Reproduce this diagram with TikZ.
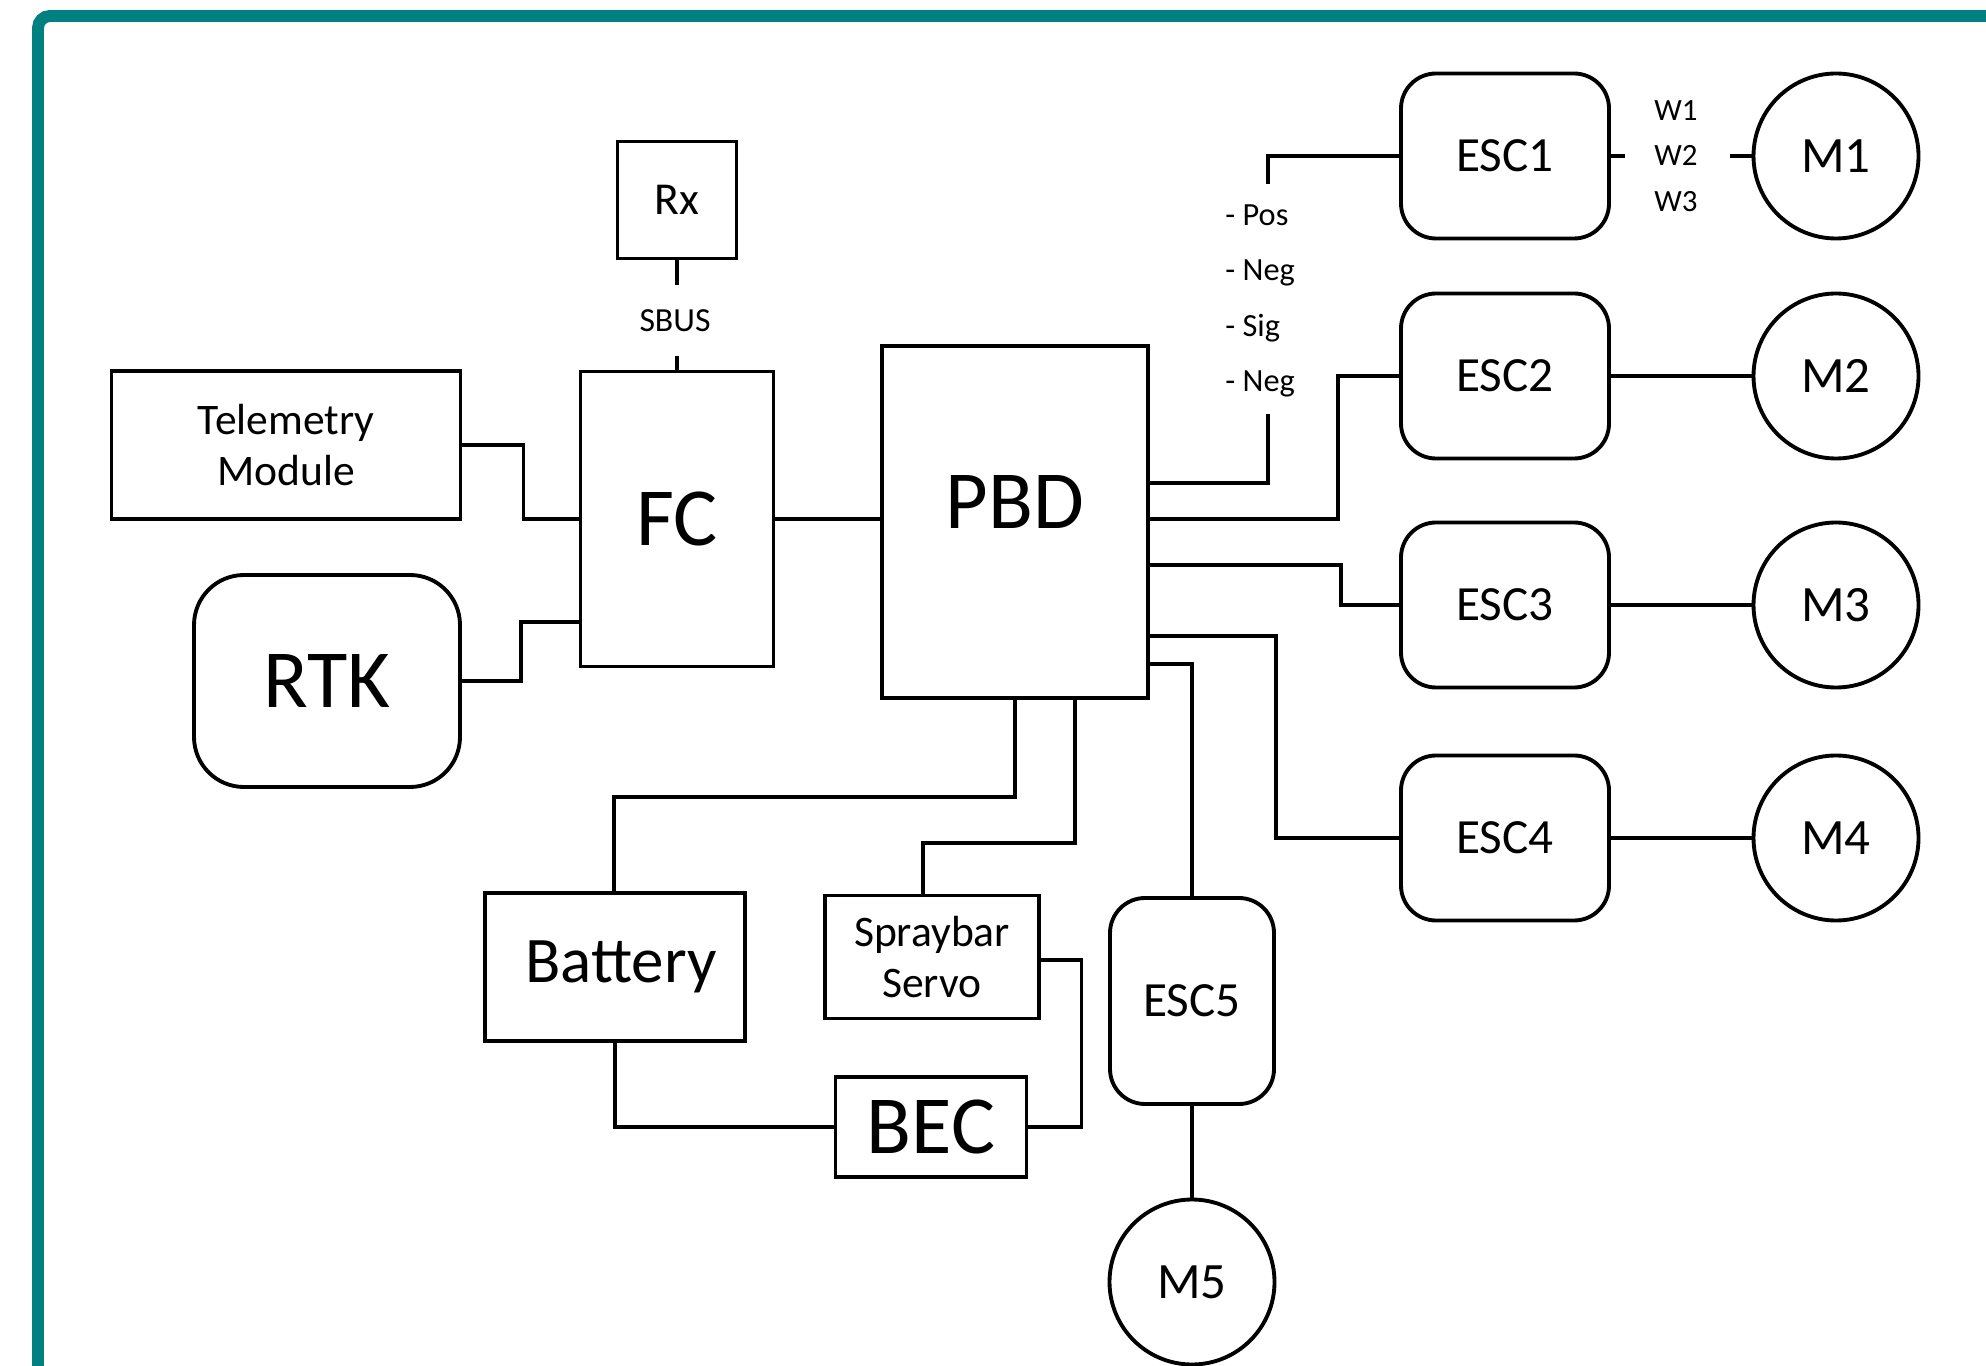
\documentclass[tikz,border=0pt]{standalone}
\usepackage{fontspec}
\setmainfont{Carlito}
\usetikzlibrary{positioning}
\definecolor{frameteal}{RGB}{0,128,128}

\begin{document}
\begin{tikzpicture}[
			box/.style={draw,line width=1.1pt,inner sep=0pt,align=center},
			rbox/.style={box,rounded corners=0.35cm},
			motor/.style={draw,circle,line width=1.1pt,inner sep=0pt,minimum size=1.65cm,font=\fontsize{14.5}{18}\selectfont},
			wire/.style={line width=1.1pt},
			big/.style={font=\fontsize{23.5}{28}\selectfont},
			mid/.style={font=\fontsize{14}{18}\selectfont},
			small/.style={font=\fontsize{12.4}{14.4}\selectfont},
			tiny/.style={font=\fontsize{9.6}{10}\selectfont}
			]
			\clip (0,0) rectangle (19.86,-13.66);
			\draw[frameteal,line width=3.4pt,rounded corners=0.12cm] (0.38,-0.16) rectangle (21,-15);
			\node[box,font=\fontsize{13}{14.4}\selectfont,minimum width=1.19cm,minimum height=1.17cm] (rx) at (6.77,-2.00) {Rx};
			\node[tiny,inner sep=0pt,minimum height=0.69cm] (sbus) at (6.75,-3.205) {SBUS};
			\node[box,big,minimum width=1.93cm,minimum height=2.95cm] (fc) at (6.77,-5.19) {FC};
			\node[box,small,minimum width=3.49cm,minimum height=1.48cm] (tel) at (2.86,-4.45) {Telemetry\\Module};
			\node[rbox,big,rounded corners=0.5cm,minimum width=2.66cm,minimum height=2.12cm] (rtk) at (3.27,-6.81) {RTK};
			\node[box,big,minimum width=2.66cm,minimum height=3.52cm] (pbd) at (10.15,-5.22) {\raisebox{0.40cm}{PBD}};
			\draw[wire] (rx.south) -- (rx.south |- sbus.north);
			\draw[wire] (fc.north |- sbus.south) -- (fc.north);
			\draw[wire] (tel.east) -- ++(0.61,0) |- (fc.west);
			\draw[wire] (rtk.east) -- ++(0.59,0) |- ([yshift=-1.03cm]fc.west);
			\draw[wire] (fc.east) -- (fc.east -| pbd.west);
			\foreach \i/\y in {1/1.56,2/3.76,3/6.05,4/8.38}{
				\node[rbox,mid,minimum width=2.08cm,minimum height=1.65cm] (esc\i) at (15.05,-\y) {ESC\i};
				\node[motor] (m\i) at (18.36,-\y) {M\i};
			}
			\foreach \i in {2,3,4}
				\draw[wire] (esc\i.east) -- (m\i.west);
			\coordinate (w2a) at (16.25,-1.56);
			\coordinate (w2b) at (17.30,-1.56);
			\draw[wire] (esc1.east) -- (w2a);
			\draw[wire] (m1.west) -- (w2b);
			\node[align=center,font=\fontsize{8.8}{12.9}\selectfont] (wires) at (16.76,-1.56) {W1\\W2\\W3};
			\coordinate (negend) at (12.68,-4.14);
			\coordinate (posend) at (12.68,-1.84);
			\draw[wire] ([yshift=0.39cm]pbd.east) -| (negend);
			\draw[wire] (posend) |- (esc1.west);
			\node[align=left,anchor=west,font=\fontsize{9.2}{15.7}\selectfont] (leads) at (12.13,-3.01) {- Pos\\- Neg\\- Sig\\- Neg};
			\draw[wire] ([yshift=0.03cm]pbd.east) -- ++(1.88,0) |- (esc2.west);
			\draw[wire] ([yshift=-0.43cm]pbd.east) -- ++(1.91,0) |- (esc3.west);
			\draw[wire] ([yshift=-1.14cm]pbd.east) -- ++(1.26,0) |- (esc4.west);
			\node[rbox,mid,minimum width=1.64cm,minimum height=2.06cm] (esc5) at (11.92,-10.01) {ESC5};
			\node[motor] (m5) at (11.92,-12.82) {M5};
			\draw[wire] ([yshift=-1.42cm]pbd.east) -| (esc5.north);
			\draw[wire] (esc5.south) -- (m5.north);
			\node[box,font=\fontsize{18.5}{22}\selectfont,minimum width=2.60cm,minimum height=1.48cm] (bat) at (6.15,-9.67) {\hspace*{0.12cm}Battery};
			\node[box,small,minimum width=2.14cm,minimum height=1.23cm] (spray) at (9.32,-9.57) {Spraybar\\Servo};
			\node[box,big,minimum width=1.91cm,minimum height=1.00cm] (bec) at (9.31,-11.27) {BEC};
			\draw[wire] (pbd.south) -- ++(0,-0.97) -| ([xshift=-0.01cm]bat.north);
			\draw[wire] ([xshift=0.60cm]pbd.south) -- ++(0,-1.43) -| ([xshift=-0.09cm]spray.north);
			\draw[wire] (bat.south) |- (bec.west);
			\draw[wire] (bec.east) -- ++(0.53,0) |- ([yshift=-0.03cm]spray.east);
		\end{tikzpicture}
\end{document}
